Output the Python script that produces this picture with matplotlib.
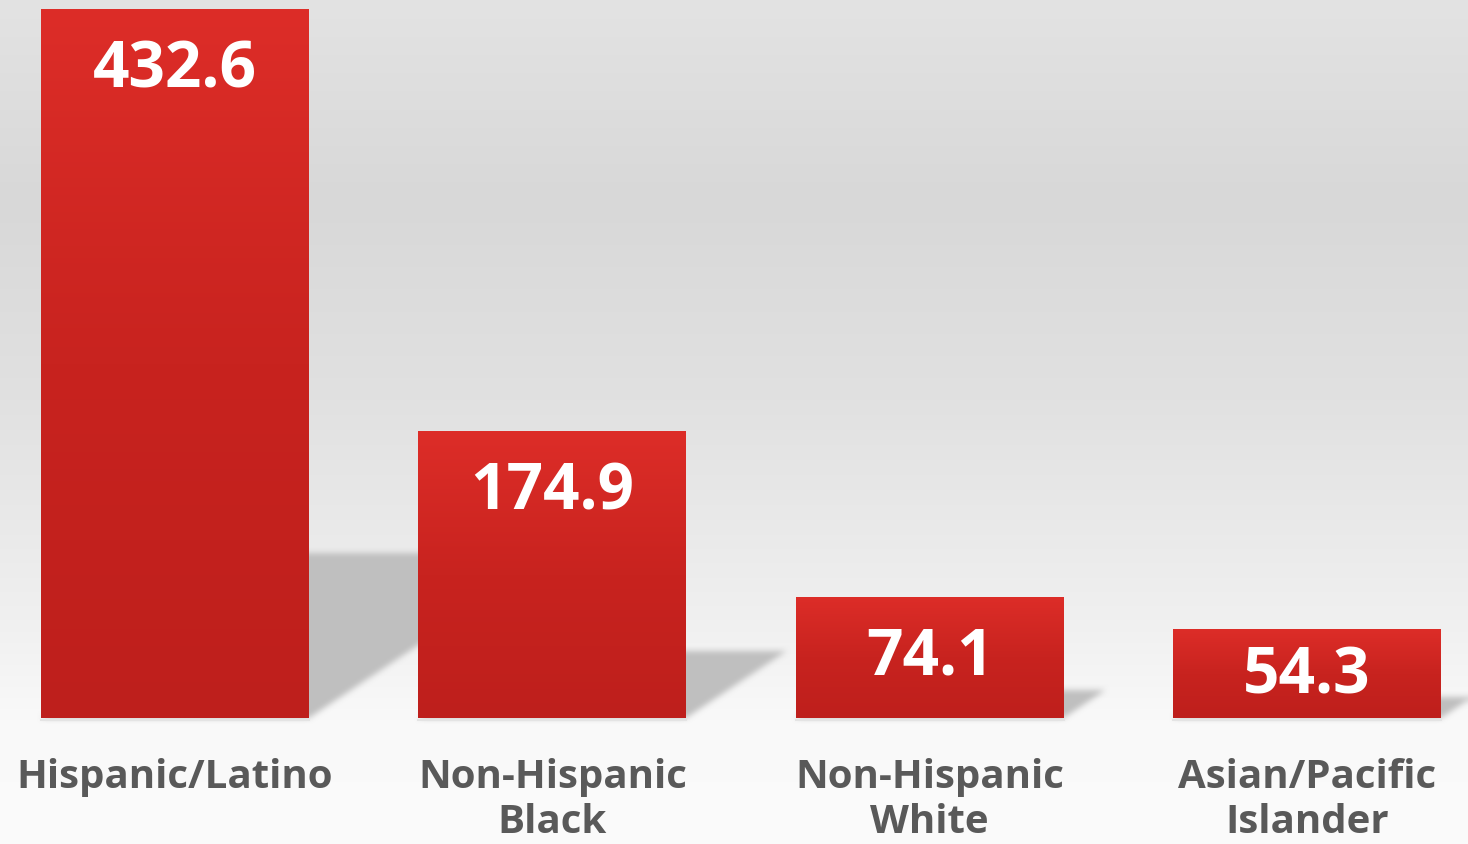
import numpy as np
import matplotlib
matplotlib.use("Agg")
import matplotlib.pyplot as plt
from matplotlib.colors import LinearSegmentedColormap

groups = ["Hispanic/Latino", "Non-Hispanic\nBlack", "Non-Hispanic\nWhite", "Asian/Pacific\nIslander"]
rates = [432.6, 174.9, 74.1, 54.3]
value_labels = ["432.6", "174.9", "74.1", "54.3"]

W, H = 1468, 844
fig = plt.figure(figsize=(W / 100, H / 100), dpi=100)
ax = fig.add_axes([0, 0, 1, 1])
ax.set_xlim(-0.464, 3.427)
ax.set_ylim(-76.9, 438.1)
ax.axis("off")

# background: grey vertical gradient (rows from top)
rows = np.arange(H)
stops_y = [0, 200, 400, 520, 620, 720, 844]
stops_v = [0xe3, 0xd8, 0xe1, 0xe9, 0xf0, 0xf9, 0xfb]
col = np.interp(rows, stops_y, stops_v) / 255.0
bg = np.repeat(col[:, None], 2, axis=1)
ax.imshow(np.dstack([bg, bg, bg]), extent=(0, 1, 0, 1), transform=ax.transAxes,
          aspect="auto", zorder=0, interpolation="bilinear")

x = np.arange(len(rates))
bw = 0.71
bars = ax.bar(x, rates, width=bw, color="#cf2622", zorder=3)

# soft floor shadows, drawn in pixel space
yy, xx = np.mgrid[0:H, 0:W] + 0.5
mask = np.zeros((H, W))
for i, v in enumerate(rates):
    x0p, y0p = ax.transData.transform((i - bw / 2, 0))
    x1p, ytp = ax.transData.transform((i + bw / 2, v))
    hs = 0.233 * (ytp - y0p)
    dx = 1.5 * hs
    t = (yy - y0p) / hs
    inside = (t >= 0) & (t <= 1) & (xx >= x0p + dx * t) & (xx <= x1p + dx * t)
    mask[inside] = 1.0


def box_blur(a, r):
    for axis in (0, 1):
        c = np.cumsum(np.pad(a, [(r + 1, r) if k == axis else (0, 0) for k in range(2)], mode="edge"), axis=axis)
        if axis == 0:
            a = (c[2 * r + 1:, :] - c[:-2 * r - 1, :]) / (2 * r + 1)
        else:
            a = (c[:, 2 * r + 1:] - c[:, :-2 * r - 1]) / (2 * r + 1)
    return a


mask = box_blur(box_blur(mask, 3), 3)
shadow = np.zeros((H, W, 4))
shadow[..., :3] = 0.75
shadow[..., 3] = mask
ax.imshow(shadow, extent=(0, 1, 0, 1), transform=ax.transAxes, origin="lower",
          aspect="auto", zorder=1, interpolation="nearest")

# red gradient on each bar
red_cmap = LinearSegmentedColormap.from_list("bar", ["#be1f1c", "#c8231f", "#dd2d28"])
grad = np.linspace(0, 1, 256)[:, None]
for b in bars:
    bx, by = b.get_x(), b.get_y()
    im = ax.imshow(grad, cmap=red_cmap, origin="lower", aspect="auto",
                   extent=(bx, bx + b.get_width(), by, by + b.get_height()), zorder=4)
    im.set_clip_path(b)
    # faint line under bar
    ax.plot([bx, bx + b.get_width()], [-1.2, -1.2], color="#e4e4e4", lw=1.5, zorder=2)

# value labels inside the bars
for i, (v, lab) in enumerate(zip(rates, value_labels)):
    hpx = ax.transData.transform((0, v))[1] - ax.transData.transform((0, 0))[1]
    off = min(78, hpx / 2 + 20)
    ax.annotate(lab, xy=(i, v), xytext=(0, -off * 0.72), textcoords="offset points",
                ha="center", va="baseline", color="white", fontsize=46,
                fontweight="bold", family="Open Sans", zorder=5)

# category labels under the bars
for i, g in enumerate(groups):
    for k, line in enumerate(g.split("\n")):
        ax.text(i, 1 - (788 + 45 * k) / H, line, transform=ax.get_xaxis_transform(),
                ha="center", va="baseline", color="#595959", fontsize=29,
                fontweight="bold", family="Open Sans", zorder=5)

fig.savefig("out.png", dpi=100)
